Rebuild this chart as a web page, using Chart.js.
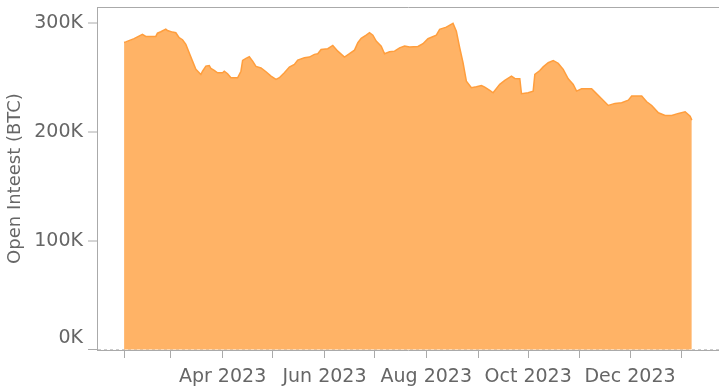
<!DOCTYPE html>
<html>
<head>
<meta charset="utf-8">
<script src="https://cdn.jsdelivr.net/npm/chart.js@4/dist/chart.umd.min.js"></script>
<style>
  html, body { margin: 0; padding: 0; background: #fff; }
  #wrap { width: 719px; height: 390px; }
</style>
</head>
<body>
<div id="wrap"><canvas id="oiChart" width="719" height="390"></canvas></div>
<script>
// Open interest (BTC), daily readings
const dates = [
    '2023-02-01', '2023-02-02', '2023-02-07', '2023-02-12', '2023-02-14', '2023-02-20', '2023-02-21',
    '2023-02-23', '2023-02-26', '2023-02-27', '2023-03-02', '2023-03-04', '2023-03-06', '2023-03-08',
    '2023-03-10', '2023-03-12', '2023-03-14', '2023-03-16', '2023-03-19', '2023-03-20', '2023-03-22',
    '2023-03-24', '2023-03-25', '2023-03-27', '2023-03-29', '2023-04-01', '2023-04-02', '2023-04-04',
    '2023-04-06', '2023-04-10', '2023-04-12', '2023-04-13', '2023-04-15', '2023-04-17', '2023-04-19',
    '2023-04-21', '2023-04-24', '2023-04-27', '2023-04-30', '2023-05-03', '2023-05-05', '2023-05-08',
    '2023-05-11', '2023-05-14', '2023-05-16', '2023-05-20', '2023-05-23', '2023-05-26', '2023-05-28',
    '2023-05-30', '2023-06-03', '2023-06-06', '2023-06-09', '2023-06-13', '2023-06-16', '2023-06-19',
    '2023-06-21', '2023-06-23', '2023-06-26', '2023-06-28', '2023-06-30', '2023-07-02', '2023-07-05',
    '2023-07-07', '2023-07-10', '2023-07-13', '2023-07-16', '2023-07-19', '2023-07-22', '2023-07-27',
    '2023-07-30', '2023-08-02', '2023-08-07', '2023-08-09', '2023-08-13', '2023-08-17', '2023-08-19',
    '2023-08-21', '2023-08-23', '2023-08-25', '2023-08-28', '2023-08-31', '2023-09-03', '2023-09-05',
    '2023-09-08', '2023-09-10', '2023-09-14', '2023-09-17', '2023-09-21', '2023-09-23', '2023-09-26',
    '2023-09-27', '2023-10-01', '2023-10-04', '2023-10-05', '2023-10-08', '2023-10-10', '2023-10-13',
    '2023-10-16', '2023-10-19', '2023-10-22', '2023-10-25', '2023-10-28', '2023-10-30', '2023-11-02',
    '2023-11-08', '2023-11-10', '2023-11-14', '2023-11-18', '2023-11-22', '2023-11-26', '2023-11-30',
    '2023-12-02', '2023-12-08', '2023-12-11', '2023-12-14', '2023-12-18', '2023-12-22', '2023-12-26',
    '2023-12-30', '2024-01-03', '2024-01-06', '2024-01-07'
];

const openInterest = [
    282500, 283000, 286000, 290000, 288000, 288000, 291000,
    292300, 294800, 293500, 292000, 291400, 286800, 285000,
    280700, 273000, 265300, 257700, 253000, 256000, 260700,
    261300, 258600, 256700, 254600, 254600, 256000, 253700,
    250000, 250000, 256000, 266000, 267800, 269300, 265300,
    260500, 259000, 255500, 251500, 248500, 250000, 254600,
    259800, 262300, 266200, 268400, 269000, 271500, 272100,
    276000, 276700, 279700, 274500, 269000, 272100, 275400,
    282200, 286200, 289200, 291400, 289200, 283700, 279100,
    272100, 273900, 274500, 277500, 279100, 278200, 278800,
    281300, 285900, 289200, 294500, 296600, 300000, 292900,
    277600, 263800, 246900, 240800, 241700, 242900, 241400,
    238300, 236200, 243900, 247500, 251500, 249400, 249100,
    235300, 236200, 237700, 253000, 256700, 260000, 263800,
    265900, 263200, 257700, 249100, 243900, 237700, 239900,
    239900, 236800, 230700, 224500, 226400, 227000, 229400,
    233100, 233100, 227900, 224500, 217800, 215300, 215300,
    217200, 218700, 214700, 211000
];

// Month ticks on the x axis, only every other one gets a label
const tickMonths = [
    '2023-02-01', '2023-03-01', '2023-04-01', '2023-05-01', '2023-06-01', '2023-07-01',
    '2023-08-01', '2023-09-01', '2023-10-01', '2023-11-01', '2023-12-01', '2024-01-01'
];
const tickLabels = ['', '', 'Apr 2023', '', 'Jun 2023', '', 'Aug 2023', '', 'Oct 2023', '', 'Dec 2023', ''];

const yTicks = [0, 100000, 200000, 300000];

const xMin = Date.UTC(2023, 0, 15, 19);
const xMax = Date.UTC(2024, 0, 23, 7);

const textColor = '#666';
const axisColor = '#aaa';
const tickFont = { family: 'DejaVu Sans', size: 19 };
const titleFont = { family: 'DejaVu Sans', size: 18 };

const points = dates.map((d, i) => ({ x: Date.parse(d), y: openInterest[i] }));

new Chart(document.getElementById('oiChart'), {
    type: 'line',
    data: {
        datasets: [{
            data: points,
            fill: 'origin',
            backgroundColor: '#FFB366',
            borderColor: '#FF9E3D',
            borderWidth: 1.5,
            pointRadius: 0,
            tension: 0
        }]
    },
    options: {
        responsive: false,
        animation: false,
        devicePixelRatio: 1,
        layout: { padding: { top: 7, left: 0, right: 0, bottom: 0 } },
        plugins: { legend: { display: false }, tooltip: { enabled: false } },
        scales: {
            x: {
                type: 'linear',
                min: xMin,
                max: xMax,
                afterBuildTicks: scale => {
                    scale.ticks = tickMonths.map(d => ({ value: Date.parse(d) }));
                },
                afterFit: scale => {
                    scale.height = 40;
                    scale.paddingLeft = 0;
                    scale.paddingRight = 0;
                },
                ticks: {
                    autoSkip: false,
                    maxRotation: 0,
                    padding: 8,
                    color: textColor,
                    font: tickFont,
                    callback: (value, index) => tickLabels[index]
                },
                grid: { drawOnChartArea: false, tickLength: 8, tickColor: axisColor },
                border: { color: axisColor }
            },
            // plain line along the top of the plot
            xTop: {
                type: 'linear',
                position: 'top',
                min: xMin,
                max: xMax,
                ticks: { display: false },
                grid: { display: false, drawTicks: false },
                border: { color: axisColor }
            },
            y: {
                min: -500,
                max: 315100,
                afterBuildTicks: scale => {
                    scale.ticks = yTicks.map(v => ({ value: v }));
                },
                afterFit: scale => {
                    scale.width = 97;
                    scale.paddingTop = 0;
                    scale.paddingBottom = 0;
                },
                ticks: {
                    padding: 5,
                    color: textColor,
                    font: tickFont,
                    // the bottom label sits above its tick, kept inside the axis
                    callback: v => (v === 0 ? ['0K', ''] : (v / 1000) + 'K')
                },
                // only the zero line is drawn, dashed
                grid: {
                    lineWidth: ctx => (ctx.tick && ctx.tick.value === 0 ? 1 : 0),
                    color: '#ccc',
                    tickLength: 9,
                    tickWidth: 1,
                    tickColor: axisColor
                },
                border: { color: axisColor, dash: [3, 3] },
                title: {
                    display: true,
                    text: 'Open Inteest (BTC)',
                    color: textColor,
                    font: titleFont,
                    padding: 5
                }
            }
        }
    }
});
</script>
</body>
</html>
